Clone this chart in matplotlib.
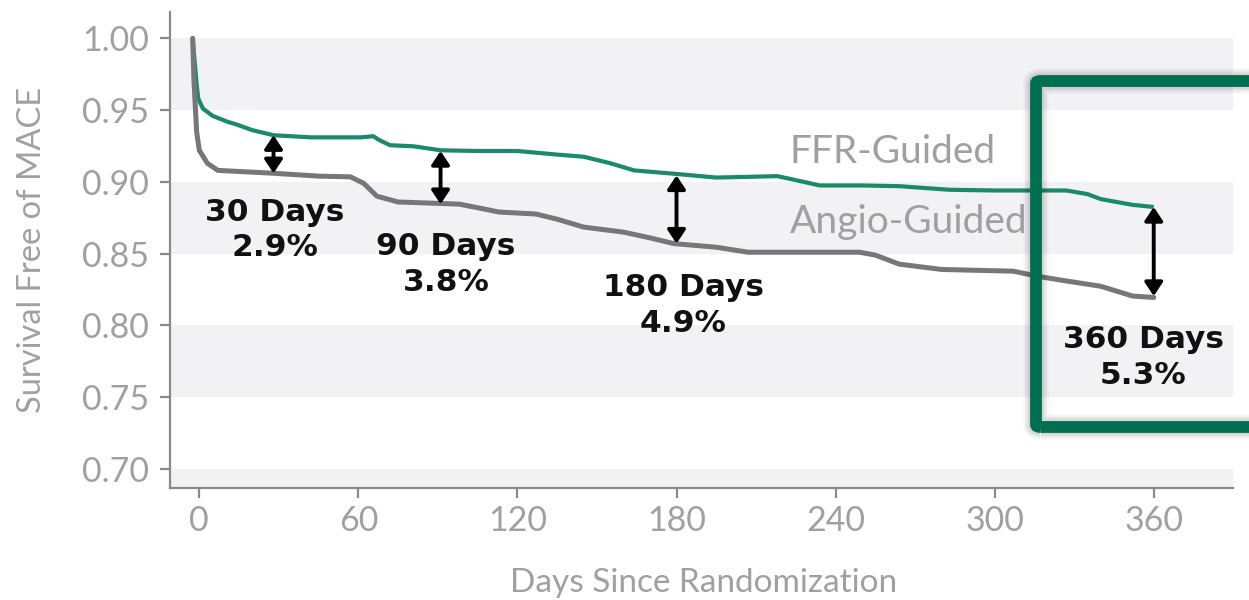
import matplotlib
matplotlib.use("Agg")
import matplotlib.pyplot as plt
from matplotlib.patches import FancyBboxPatch

# ---- data ----
ffr_days = [-2.5, -1.8, -1.0, -0.4, 1.4, 5, 10.4, 14, 20, 28, 42, 61, 65.6, 68, 72, 80.7, 91,
            105, 120, 135, 145, 155, 164, 180, 195, 207, 218, 228, 234, 250, 264, 283,
            300, 327, 335, 340, 352, 360]
ffr_surv = [1.000, 0.985, 0.968, 0.958, 0.951, 0.946, 0.942, 0.940, 0.936, 0.9325, 0.931, 0.931,
            0.9318, 0.929, 0.9255, 0.9248, 0.922, 0.9215, 0.9215, 0.919, 0.9175, 0.913, 0.908,
            0.9055, 0.903, 0.9035, 0.904, 0.900, 0.8975, 0.8975, 0.897, 0.8945, 0.894, 0.894,
            0.8915, 0.888, 0.884, 0.8825]

angio_days = [-2.5, -2.0, -1.0, 0, 3, 7, 28, 45, 57, 62, 67, 75, 98, 105, 113, 127, 135, 145,
              160, 170, 179, 195, 207, 249, 255, 264, 280, 307, 317, 327, 340, 352, 360]
angio_surv = [1.000, 0.970, 0.935, 0.922, 0.913, 0.908, 0.906, 0.904, 0.9035, 0.899, 0.890,
              0.886, 0.8845, 0.882, 0.879, 0.8776, 0.874, 0.8685, 0.865, 0.861, 0.857, 0.8545,
              0.851, 0.851, 0.849, 0.8427, 0.839, 0.8378, 0.834, 0.831, 0.8273, 0.8205, 0.8195]

arrow_days = [28, 91, 180, 360]
arrow_top = [0.9325, 0.9215, 0.9045, 0.8825]
arrow_bottom = [0.906, 0.8845, 0.857, 0.8205]
diff_labels = ["30 Days\n2.9%", "90 Days\n3.8%", "180 Days\n4.9%", "360 Days\n5.3%"]
label_x = [28.6, 93, 182.5, 356]
label_y = [0.8665, 0.8423, 0.8137, 0.7775]

xticks = [0, 60, 120, 180, 240, 300, 360]
yticks = [0.70, 0.75, 0.80, 0.85, 0.90, 0.95, 1.00]
band_ranges = [(0.95, 1.00), (0.85, 0.90), (0.75, 0.80), (0.6866, 0.70)]

# ---- style ----
GREEN = "#1b8a6b"
GREY_LINE = "#77777b"
TEXT_GREY = "#a0a0a4"
SPINE = "#8a8a8c"
BAND = "#f2f2f4"
BOX = "#006e50"
FONT = "Lato"

plt.rcParams["font.family"] = [FONT, "DejaVu Sans"]

fig = plt.figure(figsize=(12.49, 6.0), dpi=100)
ax = fig.add_axes([170 / 1249, 1 - 488.3 / 600, (1233 - 170) / 1249, (488.3 - 12) / 600])

for lo, hi in band_ranges:
    ax.axhspan(lo, hi, color=BAND, lw=0, zorder=0)

ax.plot(ffr_days, ffr_surv, color=GREEN, lw=3.0, zorder=3, solid_capstyle="butt")
ax.plot(angio_days, angio_surv, color=GREY_LINE, lw=3.6, zorder=4, solid_capstyle="round")

for x, t, b in zip(arrow_days, arrow_top, arrow_bottom):
    ax.annotate("", xy=(x, t), xytext=(x, b),
                arrowprops=dict(arrowstyle="<|-|>,head_length=0.45,head_width=0.3",
                                color="black", lw=2.8, shrinkA=0, shrinkB=0,
                                mutation_scale=18),
                zorder=6)

for s, x, y in zip(diff_labels, label_x, label_y):
    ax.text(x, y, s, ha="center", va="center", fontsize=22.5, fontweight="bold",
            family=["DejaVu Sans"], color="#111111", linespacing=1.3, zorder=7)

ax.text(222.8, 0.921, "FFR-Guided", ha="left", va="center", fontsize=28,
        color=TEXT_GREY, zorder=7)
ax.text(222.8, 0.872, "Angio-Guided", ha="left", va="center", fontsize=28,
        color=TEXT_GREY, zorder=7)

ax.set_xlim(-11.05, 389.9)
ax.set_ylim(0.6866, 1.0183)
ax.set_xticks(xticks)
ax.set_xticklabels([str(v) for v in xticks])
ax.set_yticks(yticks)
ax.set_yticklabels([f"{v:.2f}" for v in yticks])

for side in ["top", "right"]:
    ax.spines[side].set_visible(False)
for side in ["left", "bottom"]:
    ax.spines[side].set_color(SPINE)
    ax.spines[side].set_linewidth(1.6)
ax.tick_params(axis="both", direction="out", length=7, width=1.6, color=SPINE,
               labelcolor=TEXT_GREY, labelsize=24.5)
ax.tick_params(axis="y", pad=8)
ax.tick_params(axis="x", pad=5)

fig.text(704 / 1249, 1 - 592 / 600, "Days Since Randomization", ha="center",
         va="baseline", fontsize=24, color=TEXT_GREY)
fig.text(32 / 1249, 1 - 250 / 600, "Survival Free of MACE", ha="center", va="center",
         rotation=90, fontsize=23.5, color=TEXT_GREY)

# highlight box (in figure pixel coordinates) with soft shadow
W, H = 1249, 600
bx0, by0, bx1, by1 = 1036, 600 - 427, 1290, 600 - 81
for grow, alpha in [(10, 0.04), (7, 0.05), (4, 0.07)]:
    sh = FancyBboxPatch((bx0 / W, by0 / H), (bx1 - bx0) / W, (by1 - by0) / H,
                        boxstyle="round,pad=0,rounding_size=0.004",
                        transform=fig.transFigure, fill=False,
                        edgecolor="black", lw=8 + grow, alpha=alpha, zorder=9)
    fig.add_artist(sh)
box = FancyBboxPatch((bx0 / W, by0 / H), (bx1 - bx0) / W, (by1 - by0) / H,
                     boxstyle="round,pad=0,rounding_size=0.004",
                     transform=fig.transFigure, fill=False, edgecolor=BOX, lw=8.5,
                     zorder=10)
fig.add_artist(box)

fig.savefig("out.png", dpi=100)
